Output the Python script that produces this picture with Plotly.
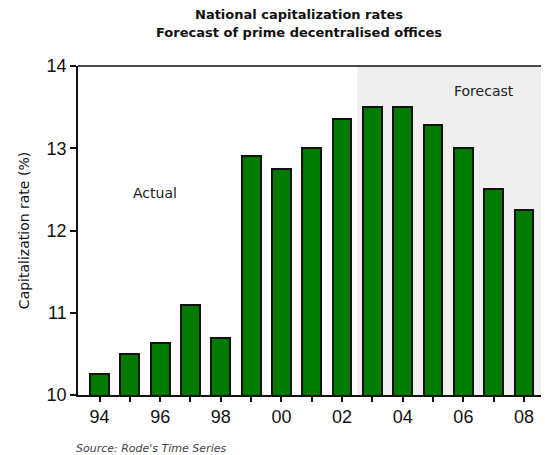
import plotly.graph_objects as go

years = list(range(1994, 2009))
tick_years = [1994, 1996, 1998, 2000, 2002, 2004, 2006, 2008]
tick_labels = ["94", "96", "98", "00", "02", "04", "06", "08"]
rates = [10.25, 10.5, 10.63, 11.1, 10.69, 12.9, 12.75, 13.0, 13.36,
         13.5, 13.5, 13.28, 13.0, 12.5, 12.25]
forecast_start = 2002.5
x_range = [1993.29, 2008.56]

W, H = 545, 455
ML, MR, MT, MB = 78, 4, 66, 60
PW, PH = W - ML - MR, H - MT - MB


def px_x(px):
    return (px - ML) / PW


def px_y(py):
    return (H - MB - py) / PH


TEXT_FONT = "DejaVu Sans, Verdana, sans-serif"
NUM_FONT = "Liberation Sans, Arial, sans-serif"

fig = go.Figure()

fig.add_trace(go.Bar(
    x=years,
    y=rates,
    width=0.62,
    marker=dict(color="#007a00", line=dict(color="#111111", width=2)),
    base=0,
    hoverinfo="x+y",
))

# shaded forecast period
fig.add_shape(type="rect", xref="x", yref="paper",
              x0=forecast_start, x1=x_range[1], y0=0, y1=1,
              fillcolor="#efefef", line_width=0, layer="below")
# top border line
fig.add_shape(type="line", xref="paper", yref="paper",
              x0=0, x1=1, y0=1, y1=1,
              line=dict(color="#111111", width=1.5))


def label(text, x, y, size, color="#222222", xanchor="center"):
    fig.add_annotation(x=px_x(x), y=px_y(y), xref="paper", yref="paper",
                       text=text, showarrow=False,
                       xanchor=xanchor, yanchor="middle",
                       font=dict(family=TEXT_FONT, size=size, color=color))


# two-line title
label("<b>National capitalization rates</b>", 299, 15, 13, "#111111")
label("<b>Forecast of prime decentralised offices</b>", 299, 32, 13, "#111111")

label("Actual", 155, 193, 14)
label("Forecast", 484, 91, 14)
label("<i>Source: Rode's Time Series</i>", 74, 448, 11, "#444444", xanchor="left")

fig.update_layout(
    width=W, height=H,
    margin=dict(l=ML, r=MR, t=MT, b=MB),
    paper_bgcolor="white", plot_bgcolor="white",
    font=dict(family=NUM_FONT, color="#111111"),
    showlegend=False,
    bargap=0,
    xaxis=dict(
        range=x_range,
        tickmode="array", tickvals=tick_years, ticktext=tick_labels,
        ticks="outside", ticklen=5, tickwidth=1.5, tickcolor="#111111",
        minor=dict(dtick=1, tick0=1994, ticks="outside", ticklen=5,
                   tickwidth=1.5, tickcolor="#111111"),
        showline=True, linecolor="#111111", linewidth=1.5,
        showgrid=False, zeroline=False,
        tickfont=dict(size=18),
    ),
    yaxis=dict(
        range=[10, 14], dtick=1,
        ticks="outside", ticklen=6, tickwidth=1.5, tickcolor="#111111",
        showline=True, linecolor="#111111", linewidth=1.5,
        showgrid=False, zeroline=False,
        tickfont=dict(size=18),
        title=dict(text="Capitalization rate (%)",
                   font=dict(family=TEXT_FONT, size=14), standoff=14),
    ),
)

fig.write_html("out.html")
